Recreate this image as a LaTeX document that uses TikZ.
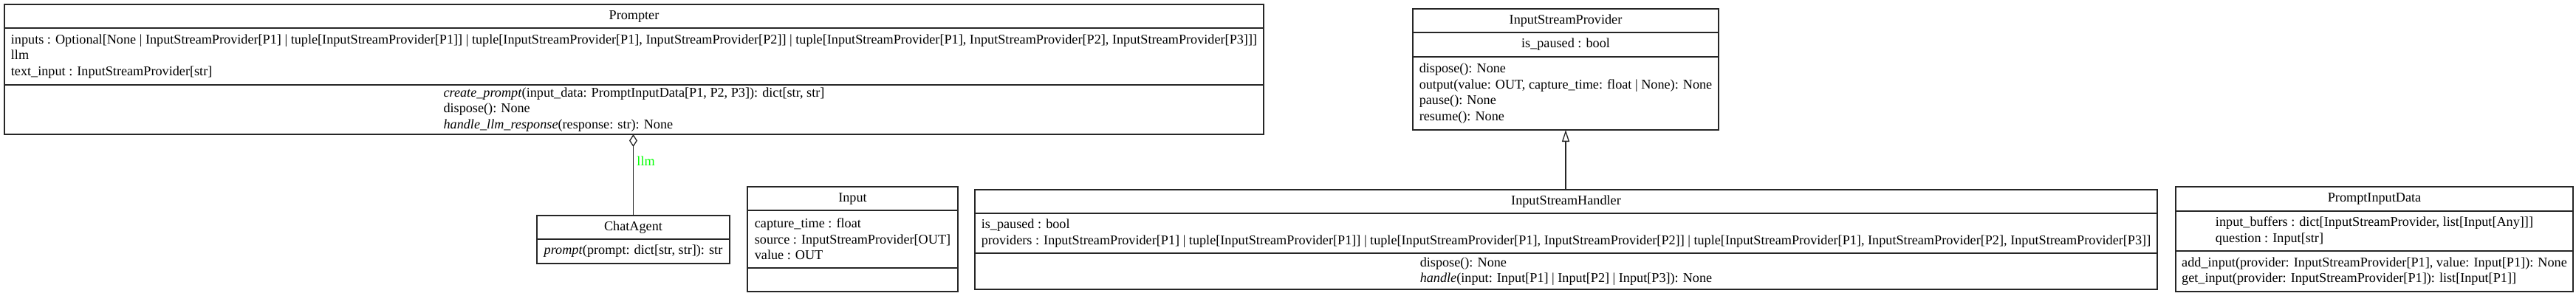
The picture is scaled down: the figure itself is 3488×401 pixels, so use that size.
\documentclass[tikz,border=0pt]{standalone}
\usepackage{fontspec}
\setmainfont{Liberation Serif}
\usetikzlibrary{positioning, arrows.meta}

\begin{document}
\begin{tikzpicture}[x=1pt, y=-1pt,
    every node/.style={font=\fontsize{18.2}{21.7}\selectfont},
    part/.style={draw=black!85, line width=1.3pt, rectangle, inner sep=0pt, outer sep=0pt, align=left},
    link/.style={draw=black!85, line width=1.3pt}]
  \useasboundingbox (0,0) rectangle (3488,401);

  % top row
  \node[part, minimum width=1705pt, minimum height=32pt] (prompter) at (858.5,22) {Prompter};
  \node[part, minimum width=1705pt, minimum height=77pt, below=0pt of prompter] (prompterA) {inputs : Optional[None | InputStreamProvider[P1] | tuple[InputStreamProvider[P1]] | tuple[InputStreamProvider[P1], InputStreamProvider[P2]] | tuple[InputStreamProvider[P1], InputStreamProvider[P2], InputStreamProvider[P3]]]\\llm\\text\_input : InputStreamProvider[str]};
  \node[part, minimum width=1705pt, minimum height=67pt, below=0pt of prompterA] (prompterM) {\textit{create\_prompt}(input\_data: PromptInputData[P1, P2, P3]): dict[str, str]\\dispose(): None\\\textit{handle\_llm\_response}(response: str): None};

  \node[part, minimum width=414pt, minimum height=32pt] (provider) at (2120,28) {InputStreamProvider};
  \node[part, minimum width=414pt, minimum height=33pt, below=0pt of provider] (providerA) {is\_paused : bool};
  \node[part, minimum width=414pt, minimum height=99pt, below=0pt of providerA] (providerM) {dispose(): None\\output(value: OUT, capture\_time: float | None): None\\pause(): None\\resume(): None};

  % bottom row
  \node[part, minimum width=261pt, minimum height=32pt] (agent) at (857.5,308) {ChatAgent};
  \node[part, minimum width=261pt, minimum height=33pt, below=0pt of agent] (agentM) {\textit{prompt}(prompt: dict[str, str]): str};

  \node[part, minimum width=285pt, minimum height=32pt] (input) at (1154.5,269) {Input};
  \node[part, minimum width=285pt, minimum height=78pt, below=0pt of input] (inputA) {capture\_time : float\\source : InputStreamProvider[OUT]\\value : OUT};
  \node[part, minimum width=285pt, minimum height=32pt, below=0pt of inputA] (inputM) {};

  \node[part, minimum width=1601pt, minimum height=32pt] (handler) at (2120.5,273) {InputStreamHandler};
  \node[part, minimum width=1601pt, minimum height=54pt, below=0pt of handler] (handlerA) {is\_paused : bool\\providers : InputStreamProvider[P1] | tuple[InputStreamProvider[P1]] | tuple[InputStreamProvider[P1], InputStreamProvider[P2]] | tuple[InputStreamProvider[P1], InputStreamProvider[P2], InputStreamProvider[P3]]};
  \node[part, minimum width=1601pt, minimum height=49pt, below=0pt of handlerA] (handlerM) {dispose(): None\\\textit{handle}(input: Input[P1] | Input[P2] | Input[P3]): None};

  \node[part, minimum width=538pt, minimum height=33pt] (data) at (3215,269.5) {PromptInputData};
  \node[part, minimum width=538pt, minimum height=54pt, below=0pt of data] (dataA) {input\_buffers : dict[InputStreamProvider, list[Input[Any]]]\\question : Input[str]};
  \node[part, minimum width=538pt, minimum height=55pt, below=0pt of dataA] (dataM) {add\_input(provider: InputStreamProvider[P1], value: Input[P1]): None\\get\_input(provider: InputStreamProvider[P1]): list[Input[P1]]};

  % relations
  \path[link, {Diamond[open, length=17pt, width=11pt]}-] (prompterM.south -| agent.north) -- node[pos=0.33, right=1pt, text=green] {llm} (agent.north);
  \path[link, -{Triangle[open, length=16pt, width=10pt]}] (handler.north -| providerM.south) -- (providerM.south);
\end{tikzpicture}
\end{document}
